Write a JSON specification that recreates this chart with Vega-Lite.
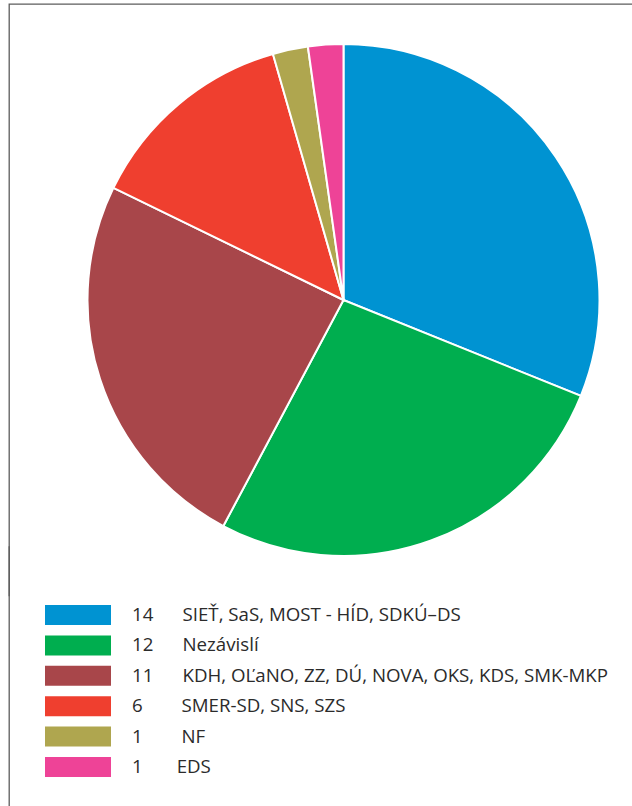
{
  "$schema": "https://vega.github.io/schema/vega-lite/v6.json",
  "width": 669,
  "height": 592,
  "autosize": {"type": "none"},
  "padding": {"left": 9, "top": 4, "right": -46, "bottom": 210},
  "background": "white",
  "view": {"stroke": "#5c5c5c", "strokeWidth": 1.3, "strokeDash": [1261, 669, 592, 0]},
  "data": {
    "values": [
      {"party": "SIEŤ, SaS, MOST - HÍD, SDKÚ–DS", "seats": 14},
      {"party": "Nezávislí", "seats": 12},
      {"party": "KDH, OĽaNO, ZZ, DÚ, NOVA, OKS, KDS, SMK-MKP", "seats": 11},
      {"party": "SMER-SD, SNS, SZS", "seats": 6},
      {"party": "NF", "seats": 1},
      {"party": "EDS", "seats": 1}
    ]
  },
  "mark": {"type": "arc", "radius": 256, "stroke": "white", "strokeWidth": 2},
  "encoding": {
    "theta": {"field": "seats", "type": "quantitative", "stack": true},
    "order": {"field": "seats", "sort": "descending"},
    "color": {
      "field": "party",
      "type": "nominal",
      "sort": ["SIEŤ, SaS, MOST - HÍD, SDKÚ–DS", "Nezávislí", "KDH, OĽaNO, ZZ, DÚ, NOVA, OKS, KDS, SMK-MKP", "SMER-SD, SNS, SZS", "NF", "EDS"],
      "scale": {
        "domain": ["SIEŤ, SaS, MOST - HÍD, SDKÚ–DS", "Nezávislí", "KDH, OĽaNO, ZZ, DÚ, NOVA, OKS, KDS, SMK-MKP", "SMER-SD, SNS, SZS", "NF", "EDS"],
        "range": ["#0093d2", "#00ae4f", "#a8464a", "#ef3f2f", "#afa64f", "#ee4397"]
      },
      "legend": {
        "title": null,
        "orient": "none",
        "legendX": 0,
        "legendY": 542,
        "padding": 59,
        "strokeColor": "#5c5c5c",
        "symbolType": "M-3.3,-1L3.3,-1L3.3,1L-3.3,1Z",
        "symbolSize": 400,
        "symbolStrokeWidth": 0,
        "symbolOpacity": 1,
        "labelOffset": 44,
        "rowPadding": 10.4,
        "labelFont": "Open Sans",
        "labelFontSize": 18.7,
        "labelColor": "#2b2b2b",
        "labelLimit": 1000,
        "labelExpr": "{'SIEŤ, SaS, MOST - HÍD, SDKÚ–DS': '14\u00a0\u00a0\u00a0\u00a0\u00a0\u00a0', 'Nezávislí': '12\u00a0\u00a0\u00a0\u00a0\u00a0\u00a0', 'KDH, OĽaNO, ZZ, DÚ, NOVA, OKS, KDS, SMK-MKP': '11\u00a0\u00a0\u00a0\u00a0\u00a0\u00a0', 'SMER-SD, SNS, SZS': '6\u00a0\u00a0\u00a0\u00a0\u00a0\u00a0\u00a0\u00a0', 'NF': '1\u00a0\u00a0\u00a0\u00a0\u00a0\u00a0\u00a0\u00a0', 'EDS': '\u00a01\u00a0\u00a0\u00a0\u00a0\u00a0\u00a0\u00a0'}[datum.label] + datum.label"
      }
    }
  },
  "config": {
    "style": {"view": {"stroke": "#5c5c5c", "strokeWidth": 1.3, "strokeDash": [1261, 669, 592, 0]}},
    "legend": {"strokeDash": [0, 700, 100000], "strokeWidth": 1.3}
  }
}
